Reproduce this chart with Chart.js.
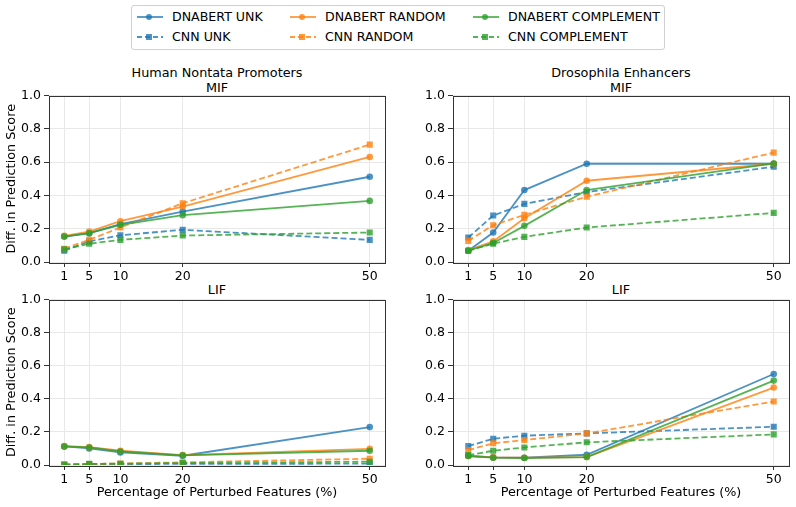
<!DOCTYPE html>
<html>
<head>
<meta charset="utf-8">
<script src="https://cdn.jsdelivr.net/npm/chart.js@4.4.0/dist/chart.umd.min.js"></script>
<style>
  body { margin: 0; width: 796px; height: 507px; overflow: hidden; background: #fff; position: relative; font-family: "DejaVu Sans", sans-serif; }
  canvas { position: absolute; }
  .ttl { position: absolute; width: 336px; font-size: 12.8px; line-height: 15px; text-align: center; color: #000; }
  #legend { position: absolute; left: 131px; top: 5px; width: 532px; height: 43px; border: 1px solid #d0d0d0; border-radius: 3px; background: #fff; }
  .item { position: absolute; font-size: 12.6px; line-height: 14px; white-space: nowrap; }
  .item svg { position: absolute; left: 0; top: 0; }
  .item span { position: absolute; left: 36px; top: 0; }
</style>
</head>
<body>
<div id="legend"></div>
<div class="ttl" style="left:49px;top:65px">Human Nontata Promoters<br>MIF</div>
<div class="ttl" style="left:453px;top:65px">Drosophila Enhancers<br>MIF</div>
<div class="ttl" style="left:49px;top:282px">LIF</div>
<div class="ttl" style="left:453px;top:282px">LIF</div>
<canvas id="c1" width="395" height="200" style="left:0;top:85px"></canvas>
<canvas id="c2" width="392" height="200" style="left:404px;top:85px"></canvas>
<canvas id="c3" width="395" height="215" style="left:0;top:289px"></canvas>
<canvas id="c4" width="392" height="215" style="left:404px;top:289px"></canvas>
<script>
// x positions (percentage of perturbed features)
const xValues = [1, 5, 10, 20, 50];
const yTicks = [0, 0.2, 0.4, 0.6, 0.8, 1.0];

// Human Nontata Promoters - MIF
const humanMifDnabertUnk = [0.153, 0.173, 0.227, 0.303, 0.512];
const humanMifCnnUnk = [0.068, 0.124, 0.161, 0.193, 0.133];
const humanMifDnabertRandom = [0.157, 0.183, 0.245, 0.333, 0.631];
const humanMifCnnRandom = [0.080, 0.133, 0.207, 0.353, 0.705];
const humanMifDnabertComp = [0.153, 0.173, 0.223, 0.281, 0.367];
const humanMifCnnComp = [0.076, 0.110, 0.133, 0.159, 0.177];

// Drosophila Enhancers - MIF
const drosMifDnabertUnk = [0.068, 0.177, 0.432, 0.590, 0.590];
const drosMifCnnUnk = [0.147, 0.279, 0.349, 0.420, 0.572];
const drosMifDnabertRandom = [0.072, 0.124, 0.263, 0.488, 0.590];
const drosMifCnnRandom = [0.127, 0.221, 0.283, 0.392, 0.657];
const drosMifDnabertComp = [0.068, 0.114, 0.217, 0.432, 0.592];
const drosMifCnnComp = [0.068, 0.110, 0.151, 0.207, 0.295];

// Human Nontata Promoters - LIF
const humanLifDnabertUnk = [0.112, 0.100, 0.076, 0.056, 0.229];
const humanLifCnnUnk = [0.002, 0.003, 0.005, 0.007, 0.008];
const humanLifDnabertRandom = [0.114, 0.108, 0.086, 0.060, 0.098];
const humanLifCnnRandom = [0.003, 0.006, 0.009, 0.016, 0.038];
const humanLifDnabertComp = [0.112, 0.106, 0.082, 0.058, 0.086];
const humanLifCnnComp = [0.003, 0.007, 0.008, 0.012, 0.020];

// Drosophila Enhancers - LIF
const drosLifDnabertUnk = [0.056, 0.046, 0.044, 0.062, 0.550];
const drosLifCnnUnk = [0.114, 0.159, 0.177, 0.191, 0.231];
const drosLifDnabertRandom = [0.054, 0.046, 0.044, 0.048, 0.468];
const drosLifCnnRandom = [0.090, 0.131, 0.151, 0.191, 0.384];
const drosLifDnabertComp = [0.054, 0.044, 0.042, 0.048, 0.510];
const drosLifCnnComp = [0.060, 0.086, 0.106, 0.137, 0.185];

const seriesLabels = ['DNABERT UNK', 'CNN UNK', 'DNABERT RANDOM', 'CNN RANDOM', 'DNABERT COMPLEMENT', 'CNN COMPLEMENT'];
const seriesColors = ['rgba(31,119,180,0.8)', 'rgba(31,119,180,0.8)', 'rgba(255,127,14,0.8)', 'rgba(255,127,14,0.8)', 'rgba(44,160,44,0.8)', 'rgba(44,160,44,0.8)'];
const seriesDashed = [false, true, false, true, false, true];

Chart.defaults.font = { family: 'DejaVu Sans', size: 12.5 };
Chart.defaults.color = '#000';
const titleFont = { family: 'DejaVu Sans', size: 12.8 };

// legend (two rows, three columns)
const legend = document.getElementById('legend');
const colX = [4, 157, 340];
seriesLabels.forEach((lab, i) => {
  const col = Math.floor(i / 2), row = i % 2;
  const d = document.createElement('div');
  d.className = 'item';
  d.style.left = colX[col] + 'px';
  d.style.top = (4 + row * 20) + 'px';
  const c = seriesColors[i];
  const marker = seriesDashed[i]
    ? `<rect x="10" y="4" width="6" height="6" fill="${c}"/>`
    : `<circle cx="13" cy="7" r="3" fill="${c}"/>`;
  d.innerHTML = `<svg width="28" height="14"><line x1="1" y1="7" x2="27" y2="7" stroke="${c}" stroke-width="1.8" ${seriesDashed[i] ? 'stroke-dasharray="5,3"' : ''}/>${marker}</svg><span>${lab}</span>`;
  legend.appendChild(d);
});

// draw the full box around the plot area like matplotlib spines
const frame = {
  id: 'frame',
  afterDatasetsDraw(chart) {
    const a = chart.chartArea, ctx = chart.ctx;
    ctx.save();
    ctx.strokeStyle = '#333';
    ctx.lineWidth = 1;
    ctx.strokeRect(Math.round(a.left) + 0.5, Math.round(a.top) + 0.5, Math.round(a.right - a.left), Math.round(a.bottom - a.top));
    ctx.restore();
  }
};

function makeChart(id, data, showYTitle, showXTitle, padRight) {
  const datasets = data.map((vals, i) => ({
    label: seriesLabels[i],
    data: xValues.map((x, j) => ({ x: x, y: vals[j] })),
    borderColor: seriesColors[i],
    backgroundColor: seriesColors[i],
    borderWidth: 1.8,
    borderDash: seriesDashed[i] ? [6, 3] : [],
    pointStyle: seriesDashed[i] ? 'rect' : 'circle',
    pointRadius: seriesDashed[i] ? 4.3 : 3.3,
    pointBorderWidth: 0,
    tension: 0,
    order: data.length - 1 - i
  }));
  new Chart(document.getElementById(id).getContext('2d'), {
    type: 'line',
    data: { datasets: datasets },
    options: {
      responsive: false,
      animation: false,
      layout: { padding: { top: 10, right: padRight, left: 0, bottom: 0 } },
      plugins: { legend: { display: false }, tooltip: { enabled: false } },
      scales: {
        x: {
          type: 'linear',
          min: -1.45,
          max: 52.45,
          afterBuildTicks: s => { s.ticks = xValues.map(v => ({ value: v })); },
          afterFit: s => { s.height = showXTitle ? 39 : 23; },
          ticks: { padding: 2, maxRotation: 0, callback: v => String(v) },
          grid: { color: '#e8e8e8', tickColor: '#333', tickLength: 5 },
          border: { display: false },
          title: { display: showXTitle, text: 'Percentage of Perturbed Features (%)', font: titleFont, padding: { top: 0, bottom: 4 } }
        },
        y: {
          min: 0,
          max: 1,
          afterBuildTicks: s => { s.ticks = yTicks.map(v => ({ value: v })); },
          afterFit: s => { s.width = 49; },
          ticks: { padding: 3, callback: v => v.toFixed(1) },
          grid: { color: '#e8e8e8', tickColor: '#333', tickLength: 5 },
          border: { display: false },
          title: { display: showYTitle, text: 'Diff. in Prediction Score', font: titleFont, padding: { top: 4, bottom: 2 } }
        }
      }
    },
    plugins: [frame]
  });
}

makeChart('c1', [humanMifDnabertUnk, humanMifCnnUnk, humanMifDnabertRandom, humanMifCnnRandom, humanMifDnabertComp, humanMifCnnComp], true, false, 10);
makeChart('c2', [drosMifDnabertUnk, drosMifCnnUnk, drosMifDnabertRandom, drosMifCnnRandom, drosMifDnabertComp, drosMifCnnComp], false, false, 7);
makeChart('c3', [humanLifDnabertUnk, humanLifCnnUnk, humanLifDnabertRandom, humanLifCnnRandom, humanLifDnabertComp, humanLifCnnComp], true, true, 10);
makeChart('c4', [drosLifDnabertUnk, drosLifCnnUnk, drosLifDnabertRandom, drosLifCnnRandom, drosLifDnabertComp, drosLifCnnComp], false, true, 7);
</script>
</body>
</html>
